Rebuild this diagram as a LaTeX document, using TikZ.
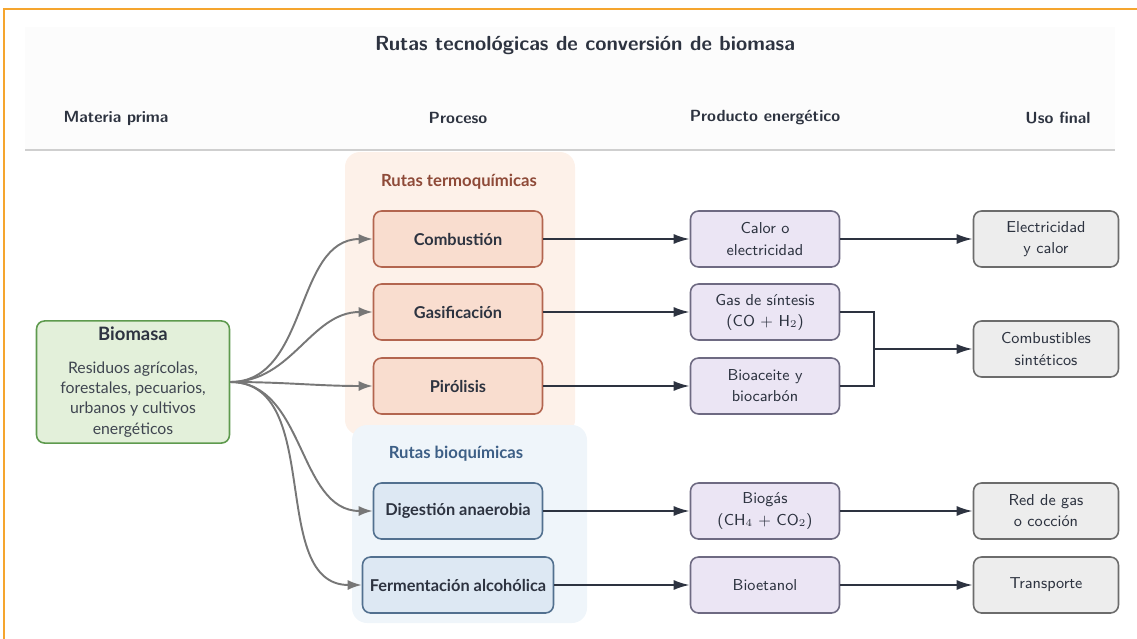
\documentclass[tikz,border=0pt]{standalone}
\usepackage{fontspec}
\newfontfamily\latofont{Lato}
\usepackage{tikz}
\usetikzlibrary{positioning, arrows.meta, calc}
\definecolor{frameOrange}{HTML}{F5A52E}
\definecolor{inkDark}{HTML}{2D3340}
\definecolor{inkSoft}{HTML}{3F4550}
\definecolor{ruleGray}{HTML}{CFCFCF}
\definecolor{thermoFill}{HTML}{FDF1E9}
\definecolor{thermoInk}{HTML}{8E4A38}
\definecolor{bioPanel}{HTML}{EFF5FA}
\definecolor{bioInk}{HTML}{3D5F86}
\definecolor{procFill}{HTML}{F9DDCF}
\definecolor{procLine}{HTML}{B3654F}
\definecolor{bioFill}{HTML}{DDE8F3}
\definecolor{bioLine}{HTML}{52708F}
\definecolor{prodFill}{HTML}{EBE5F4}
\definecolor{prodLine}{HTML}{6E6A82}
\definecolor{endFill}{HTML}{EDEDED}
\definecolor{endLine}{HTML}{6C6C6C}
\definecolor{feedFill}{HTML}{E3F0DA}
\definecolor{feedLine}{HTML}{5E9A4E}
\definecolor{feedGray}{HTML}{777777}

\begin{document}
\begin{tikzpicture}[
  x=0.02cm, y=-0.02cm,
  box/.style={draw, rounded corners=0.16cm, line width=0.9pt, minimum height=1.12cm,
              align=center, text=inkDark},
  proc/.style={box, fill=procFill, draw=procLine, minimum width=3.38cm,
               font=\latofont\bfseries\fontsize{9.3}{11}\selectfont},
  bproc/.style={proc, fill=bioFill, draw=bioLine},
  prod/.style={box, fill=prodFill, draw=prodLine, minimum width=2.98cm,
               font=\sffamily\fontsize{9}{12}\selectfont},
  endbox/.style={box, fill=endFill, draw=endLine, minimum width=2.9cm,
                 font=\sffamily\fontsize{9}{12}\selectfont},
  head/.style={font=\sffamily\bfseries\fontsize{9.2}{12}\selectfont, text=inkDark},
  group/.style={font=\latofont\bfseries\fontsize{9.5}{11}\selectfont},
  feed/.style={-{Latex[length=2.8mm,width=2mm]}, draw=feedGray, line width=1.1pt},
  flow/.style={-{Latex[length=3.2mm,width=2mm]}, draw=inkDark, line width=1.2pt},
]
  \useasboundingbox (0,0) rectangle (1137,639);
  \fill[gray!2] (25,27) rectangle (1115,150);
  \draw[frameOrange, line width=1.2pt] (4,660) -- (4,9) -- (1150,9);

  % title and column heads
  \node[font=\sffamily\bfseries\fontsize{11.6}{14}\selectfont, text=inkDark] (title) at (585,46)
    {Rutas tecnológicas de conversión de biomasa};
  \node[head] (hRaw)  at (116,118) {Materia prima};
  \node[head] (hProc) at (458,118) {Proceso};
  \node[head] (hProd) at (765,118) {Producto energético};
  \node[head] (hUse)  at (1058,118) {Uso final};
  \draw[ruleGray, line width=1.2pt] (25,150) -- (1115,150);

  % route panels
  \fill[thermoFill, rounded corners=0.3cm] (345,152) rectangle (575,435);
  \fill[bioPanel, rounded corners=0.3cm] (352,425) rectangle (587,623);
  \node[group, text=thermoInk] (gThermo) at (459,182) {Rutas termoquímicas};
  \node[group, text=bioInk] (gBio) at (456,454) {Rutas bioquímicas};

  % raw material
  \node[box, fill=feedFill, draw=feedLine, minimum width=3.86cm, minimum height=2.42cm,
        font=\latofont\fontsize{9}{11.6}\selectfont] (biomasa) at (133,382)
    {{\fontsize{10.5}{14}\selectfont\bfseries Biomasa}\\[7pt]
     {\color{inkSoft}Residuos agrícolas,}\\
     {\color{inkSoft}forestales, pecuarios,}\\
     {\color{inkSoft}urbanos y cultivos}\\
     {\color{inkSoft}energéticos}};

  % processes
  \node[proc]  (comb) at (458,239) {Combustión};
  \node[proc]  (gasi) at (458,312) {Gasificación};
  \node[proc]  (piro) at (458,386) {Pirólisis};
  \node[bproc] (dige) at (458,511) {Digestión anaerobia};
  \node[bproc, minimum width=3.82cm] (ferm) at (458,585) {Fermentación alcohólica};

  % products
  \node[prod] (calor)  at (765,239) {Calor o\\electricidad};
  \node[prod] (syngas) at (765,312) {Gas de síntesis\\(CO + H$_2$)};
  \node[prod] (oil)    at (765,386) {Bioaceite y\\biocarbón};
  \node[prod] (biogas) at (765,511) {Biogás\\(CH$_4$ + CO$_2$)};
  \node[prod] (etoh)   at (765,585) {Bioetanol};

  % end uses
  \node[endbox] (uElec)  at (1046,239) {Electricidad\\y calor};
  \node[endbox] (uFuel)  at (1046,349) {Combustibles\\sintéticos};
  \node[endbox] (uGas)   at (1046,511) {Red de gas\\o cocción};
  \node[endbox] (uTrans) at (1046,585) {Transporte};
  \coordinate (join) at (874,349);

  % connectors
  \foreach \p in {comb, gasi, piro, dige, ferm}
    \draw[feed] (biomasa.east) to[out=0, in=180] (\p.west);
  \draw[flow] (comb) -- (calor);
  \draw[flow] (gasi) -- (syngas);
  \draw[flow] (piro) -- (oil);
  \draw[flow] (dige) -- (biogas);
  \draw[flow] (ferm) -- (etoh);
  \draw[flow] (calor) -- (uElec);
  \draw[draw=inkDark, line width=1.2pt] (syngas.east) -| (join);
  \draw[draw=inkDark, line width=1.2pt] (oil.east) -| (join);
  \draw[flow] (join) -- (uFuel);
  \draw[flow] (biogas) -- (uGas);
  \draw[flow] (etoh) -- (uTrans);
\end{tikzpicture}
\end{document}
